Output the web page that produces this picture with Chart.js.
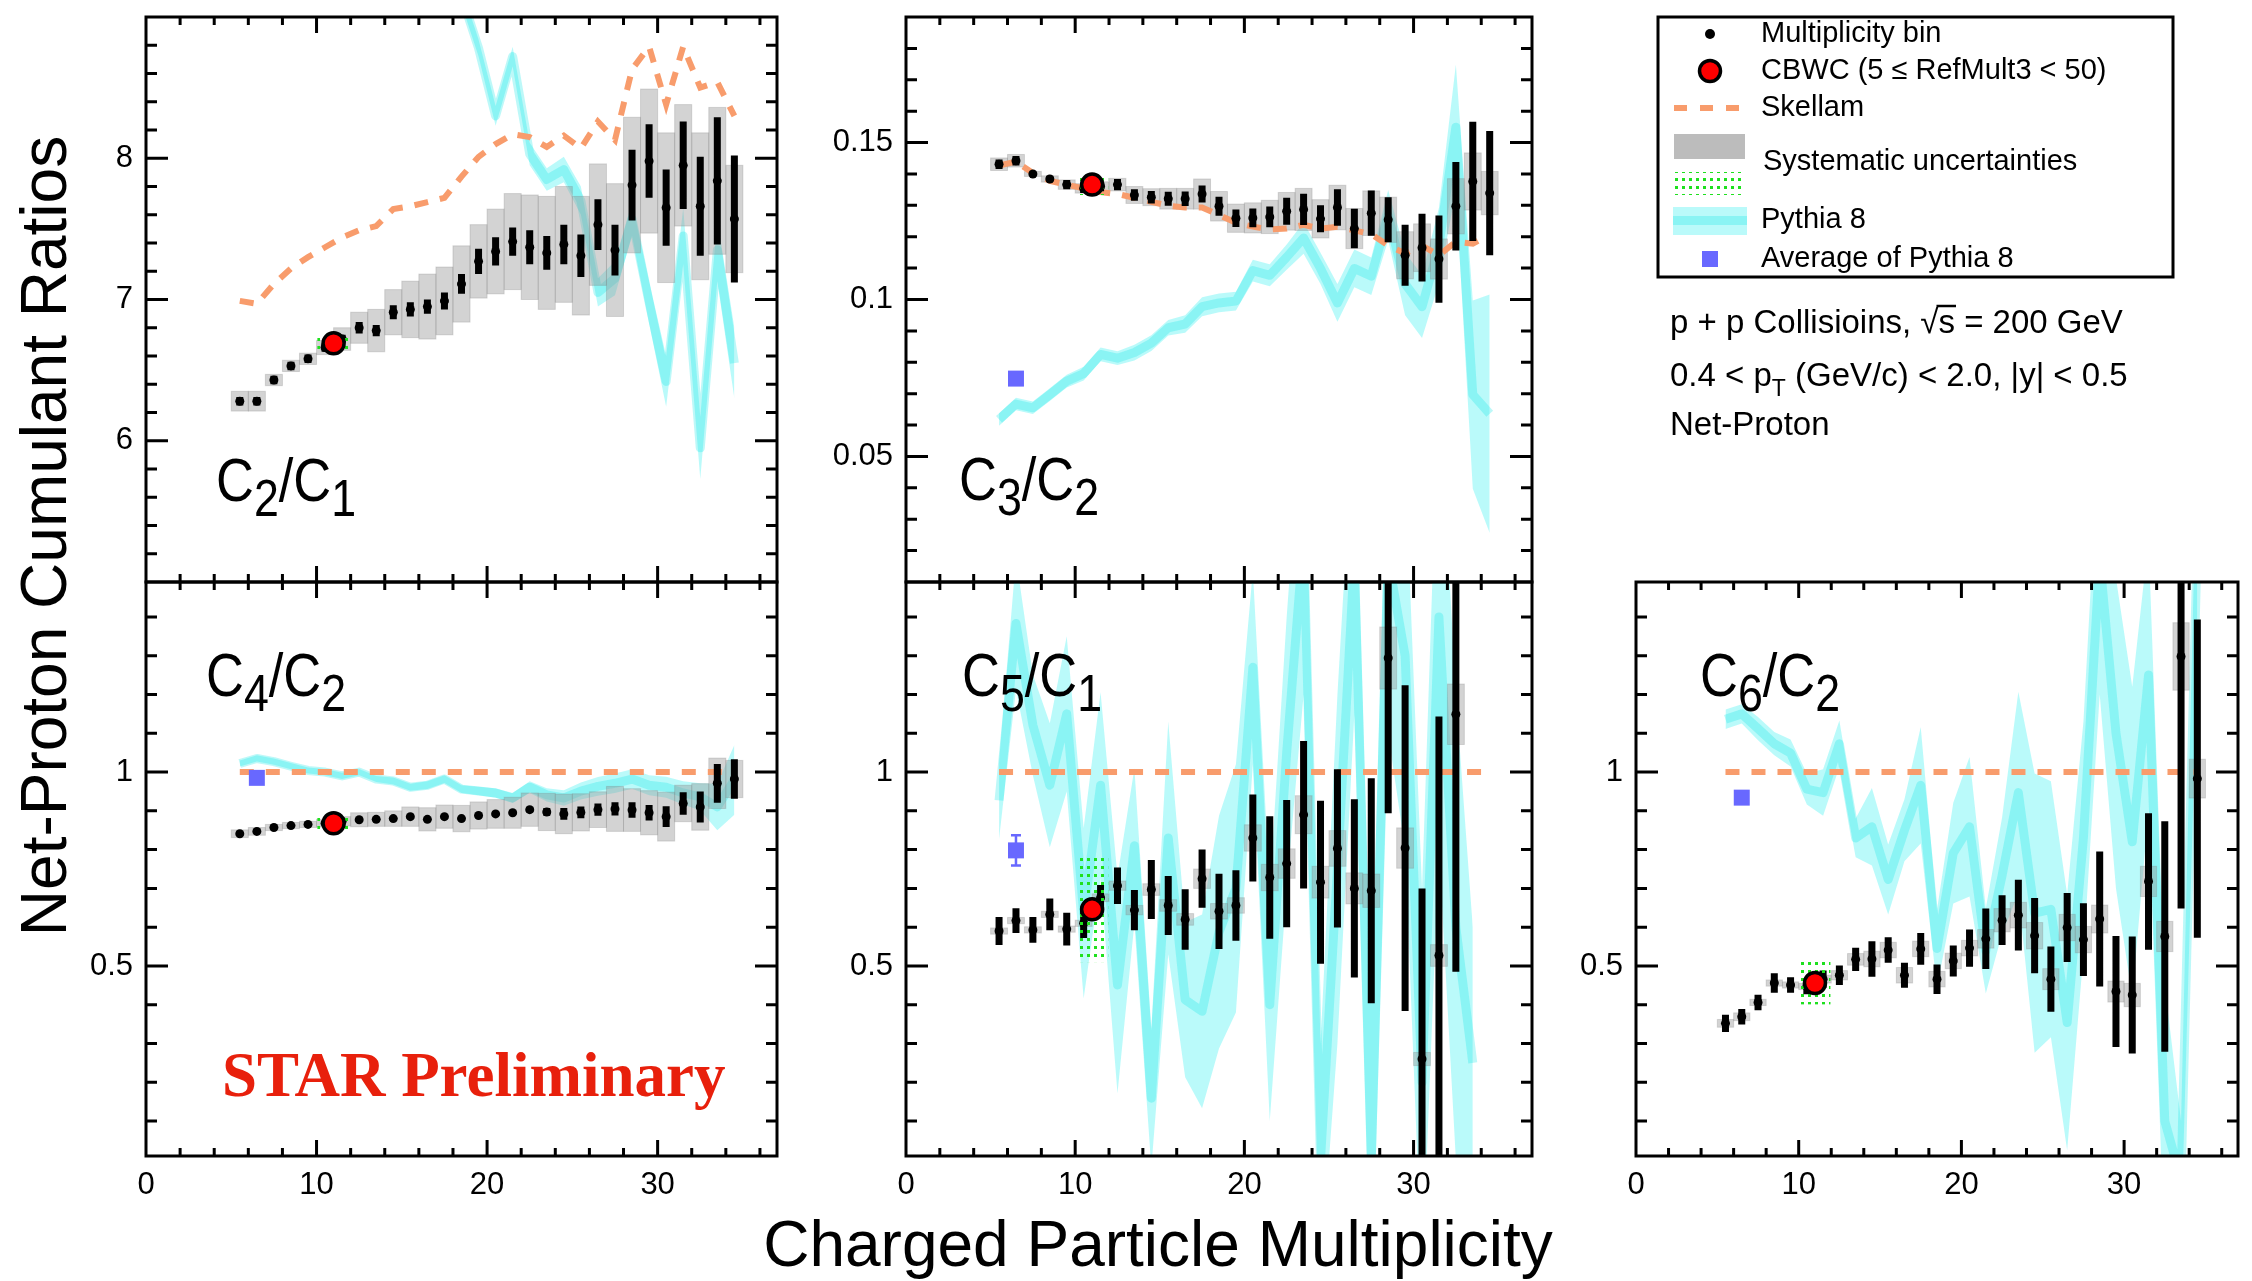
<!DOCTYPE html>
<html>
<head>
<meta charset="utf-8">
<title>Net-Proton Cumulant Ratios</title>
<script src="https://cdn.jsdelivr.net/npm/chart.js@4.4.1/dist/chart.umd.min.js"></script>
<style>
  html, body { margin: 0; padding: 0; background: #fff; }
  #wrap { position: relative; width: 2252px; height: 1281px; overflow: hidden; background: #fff; }
  #wrap canvas { position: absolute; left: 0; top: 0; }
</style>
</head>
<body>
<div id="wrap">
  <canvas id="c21" width="2252" height="1281"></canvas>
  <canvas id="c32" width="2252" height="1281"></canvas>
  <canvas id="c42" width="2252" height="1281"></canvas>
  <canvas id="c51" width="2252" height="1281"></canvas>
  <canvas id="c62" width="2252" height="1281"></canvas>
</div>
<script>
// multiplicity bin centres
const xBins = [5.5, 6.5, 7.5, 8.5, 9.5, 10.5, 11.5, 12.5, 13.5, 14.5, 15.5, 16.5, 17.5, 18.5, 19.5,
  20.5, 21.5, 22.5, 23.5, 24.5, 25.5, 26.5, 27.5, 28.5, 29.5, 30.5, 31.5, 32.5, 33.5, 34.5];

// C2/C1
const c21Val = [6.28, 6.28, 6.43, 6.53, 6.58, 6.66, 6.72, 6.80, 6.78, 6.91, 6.93, 6.95, 6.99, 7.11, 7.27,
  7.34, 7.41, 7.37, 7.33, 7.39, 7.31, 7.53, 7.35, 7.81, 7.98, 7.65, 7.95, 7.66, 7.84, 7.57];
const c21Stat = [0.03, 0.03, 0.03, 0.03, 0.03, 0.03, 0.03, 0.04, 0.04, 0.05, 0.05, 0.05, 0.06, 0.07, 0.09,
  0.10, 0.10, 0.12, 0.12, 0.14, 0.15, 0.18, 0.18, 0.25, 0.26, 0.27, 0.31, 0.35, 0.45, 0.45];
const c21Sys = [0.07, 0.07, 0.04, 0.04, 0.04, 0.05, 0.08, 0.11, 0.15, 0.16, 0.20, 0.23, 0.24, 0.27, 0.26,
  0.30, 0.34, 0.37, 0.40, 0.41, 0.42, 0.43, 0.47, 0.48, 0.51, 0.53, 0.43, 0.52, 0.52, 0.38];
const sk21 = [6.99, 6.97, 7.11, 7.22, 7.30, 7.37, 7.44, 7.49, 7.52, 7.64, 7.66, 7.69, 7.72, 7.87, 8.01,
  8.10, 8.17, 8.15, 8.08, 8.16, 8.07, 8.26, 8.13, 8.63, 8.79, 8.38, 8.79, 8.50, 8.54, 8.30];
const p21Val = [null, null, null, null, null, null, null, null, null, null, null, null, null, 9.15, 8.78,
  8.30, 8.72, 8.03, 7.85, 7.92, 7.70, 7.05, 7.15, 7.57, 6.98, 6.42, 7.45, 5.95, 7.35, 6.55];
const p21Err = [null, null, null, null, null, null, null, null, null, null, null, null, null, 0.06, 0.06,
  0.07, 0.07, 0.08, 0.08, 0.09, 0.10, 0.10, 0.12, 0.12, 0.15, 0.18, 0.20, 0.22, 0.22, 0.25];

// C3/C2
const c32Val = [0.1431, 0.1442, 0.1400, 0.1384, 0.1366, 0.1354, 0.1360, 0.1366, 0.1333, 0.1326, 0.1321, 0.1321,
  0.1336, 0.1297, 0.1259, 0.1260, 0.1263, 0.1281, 0.1287, 0.1257, 0.1293, 0.1226, 0.1275, 0.1254, 0.1141,
  0.1165, 0.1129, 0.1297, 0.1376, 0.1339];
const c32Stat = [0.0015, 0.0015, 0.0008, 0.0010, 0.0015, 0.0015, 0.0015, 0.0018, 0.0018, 0.0020, 0.0022, 0.0023,
  0.0027, 0.0030, 0.0028, 0.0030, 0.0033, 0.0043, 0.0050, 0.0043, 0.0058, 0.0063, 0.0072, 0.0072, 0.0097,
  0.0108, 0.0139, 0.0141, 0.0190, 0.0198];
const c32Sys = [0.0020, 0.0020, 0.0008, 0.0010, 0.0015, 0.0015, 0.0015, 0.0020, 0.0027, 0.0027, 0.0033, 0.0033,
  0.0048, 0.0047, 0.0045, 0.0048, 0.0053, 0.0060, 0.0067, 0.0061, 0.0071, 0.0064, 0.0071, 0.0072, 0.0075,
  0.0076, 0.0064, 0.0088, 0.0091, 0.0069];
const sk32 = [0.1427, 0.1439, 0.1403, 0.1378, 0.1366, 0.1354, 0.1342, 0.1336, 0.1324, 0.1311, 0.1299, 0.1293,
  0.1293, 0.1269, 0.1245, 0.1232, 0.1223, 0.1226, 0.1238, 0.1226, 0.1232, 0.1220, 0.1208, 0.1172, 0.1147,
  0.1172, 0.1141, 0.1184, 0.1178, 0.1208];
const p32Val = [0.0618, 0.0667, 0.0655, 0.0697, 0.0740, 0.0764, 0.0825, 0.0813, 0.0831, 0.0861, 0.0910, 0.0922,
  0.0977, 0.0989, 0.0995, 0.1092, 0.1077, 0.1135, 0.1196, 0.1099, 0.0989, 0.1099, 0.1074, 0.1269, 0.1050,
  0.0977, 0.1172, 0.1549, 0.0697, 0.0636];
const p32Err = [0.002, 0.002, 0.002, 0.002, 0.002, 0.0022, 0.0022, 0.0022, 0.0025, 0.0025, 0.0025, 0.0028,
  0.003, 0.003, 0.003, 0.0035, 0.0035, 0.004, 0.005, 0.005, 0.006, 0.006, 0.006, 0.008, 0.010,
  0.010, 0.012, 0.020, 0.030, 0.038];

// C4/C2
const c42Val = [0.841, 0.847, 0.857, 0.862, 0.865, 0.868, 0.873, 0.877, 0.878, 0.880, 0.885, 0.878, 0.885, 0.880,
  0.888, 0.892, 0.895, 0.903, 0.897, 0.892, 0.896, 0.903, 0.905, 0.902, 0.895, 0.885, 0.919, 0.910, 0.971, 0.982];
const c42Stat = [0.004, 0.004, 0.004, 0.004, 0.004, 0.004, 0.004, 0.004, 0.005, 0.005, 0.005, 0.005, 0.005, 0.005,
  0.006, 0.006, 0.006, 0.007, 0.010, 0.015, 0.015, 0.016, 0.017, 0.020, 0.020, 0.027, 0.029, 0.040, 0.050, 0.051];
const c42Sys = [0.010, 0.010, 0.008, 0.008, 0.008, 0.010, 0.012, 0.018, 0.018, 0.020, 0.025, 0.030, 0.030, 0.034,
  0.035, 0.037, 0.040, 0.043, 0.048, 0.051, 0.048, 0.046, 0.058, 0.055, 0.057, 0.063, 0.047, 0.060, 0.065, 0.048];
const sk42 = [1, 1, 1, 1, 1, 1, 1, 1, 1, 1, 1, 1, 1, 1, 1, 1, 1, 1, 1, 1, 1, 1, 1, 1, 1, 1, 1, 1, 1, 1];
const p42Val = [1.022, 1.035, 1.027, 1.015, 1.004, 1.000, 0.990, 1.000, 0.982, 0.977, 0.961, 0.966, 0.982, 0.956,
  0.951, 0.946, 0.933, 0.961, 0.941, 0.933, 0.951, 0.963, 0.971, 0.982, 0.966, 0.961, 0.946, 0.936, 0.910, 0.980];
const p42Err = [0.008, 0.008, 0.008, 0.008, 0.008, 0.008, 0.008, 0.008, 0.008, 0.009, 0.009, 0.010, 0.010, 0.010,
  0.011, 0.012, 0.013, 0.015, 0.017, 0.020, 0.022, 0.024, 0.025, 0.025, 0.026, 0.027, 0.030, 0.035, 0.060, 0.090];

// C5/C1
const c51Val = [0.590, 0.617, 0.593, 0.633, 0.595, 0.610, 0.676, 0.707, 0.644, 0.697, 0.656, 0.620, 0.725, 0.641,
  0.656, 0.830, 0.728, 0.764, 0.890, 0.716, 0.803, 0.700, 0.694, 1.294, 0.804, 0.260, 0.527, 1.149, null, null];
const c51Stat = [0.036, 0.032, 0.033, 0.041, 0.042, 0.038, 0.033, 0.047, 0.052, 0.076, 0.076, 0.078, 0.075, 0.097,
  0.091, 0.112, 0.158, 0.164, 0.190, 0.210, 0.204, 0.230, 0.290, 0.400, 0.420, 0.440, 0.616, 0.664, null, null];
const c51Sys = [0.008, 0.008, 0.008, 0.008, 0.008, 0.008, 0.010, 0.012, 0.012, 0.015, 0.015, 0.015, 0.025, 0.020,
  0.020, 0.034, 0.034, 0.038, 0.049, 0.041, 0.046, 0.040, 0.043, 0.080, 0.052, 0.017, 0.028, 0.078, null, null];
const sk51 = [1, 1, 1, 1, 1, 1, 1, 1, 1, 1, 1, 1, 1, 1, 1, 1, 1, 1, 1, 1, 1, 1, 1, 1, 1, 1, 1, 1, 1, 1];
const p51Val = [0.927, 1.383, 1.121, 0.966, 1.150, 0.636, 0.966, 0.451, 0.810, 0.159, 0.830, 0.413, 0.383, 0.587,
  0.700, 1.270, 0.400, 1.050, 1.600, 0.000, 0.750, 1.550, 0.000, 1.550, 1.300, 0.200, 1.400, 0.600, 0.250, null];
const p51Err = [0.10, 0.17, 0.13, 0.16, 0.20, 0.22, 0.24, 0.28, 0.20, 0.18, 0.30, 0.20, 0.25, 0.30,
  0.32, 0.25, 0.30, 0.35, 0.40, 0.30, 0.45, 0.40, 0.40, 0.45, 0.50, 0.50, 0.60, 0.60, 0.35, null];

// C6/C2
const c62Val = [0.352, 0.369, 0.406, 0.456, 0.451, 0.447, 0.466, 0.476, 0.517, 0.518, 0.541, 0.476, 0.544, 0.466,
  0.513, 0.546, 0.570, 0.618, 0.631, 0.578, 0.466, 0.599, 0.568, 0.621, 0.434, 0.425, 0.718, 0.576, 1.298, 0.983];
const c62Stat = [0.022, 0.020, 0.020, 0.025, 0.020, 0.020, 0.022, 0.025, 0.030, 0.046, 0.033, 0.032, 0.041, 0.038,
  0.040, 0.048, 0.078, 0.064, 0.091, 0.097, 0.084, 0.089, 0.094, 0.174, 0.143, 0.151, 0.176, 0.297, 0.650, 0.410];
const c62Sys = [0.010, 0.010, 0.008, 0.008, 0.008, 0.008, 0.010, 0.012, 0.015, 0.020, 0.020, 0.020, 0.020, 0.020,
  0.020, 0.020, 0.024, 0.030, 0.033, 0.034, 0.027, 0.034, 0.034, 0.036, 0.027, 0.030, 0.039, 0.039, 0.087, 0.050];
const sk62 = [1, 1, 1, 1, 1, 1, 1, 1, 1, 1, 1, 1, 1, 1, 1, 1, 1, 1, 1, 1, 1, 1, 1, 1, 1, 1, 1, 1, 1, 1];
const p62Val = [1.136, 1.150, 1.112, 1.073, 1.049, 0.956, 0.947, 1.073, 0.830, 0.859, 0.723, 0.850, 0.966, 0.545,
  0.791, 0.859, 0.539, 0.733, 0.947, 0.636, 0.646, 0.354, 0.830, 1.550, 1.100, 0.820, 1.250, 0.100, -0.050, 1.600];
const p62Err = [0.025, 0.025, 0.030, 0.030, 0.035, 0.040, 0.060, 0.060, 0.050, 0.100, 0.090, 0.080, 0.150, 0.100,
  0.130, 0.180, 0.110, 0.150, 0.260, 0.360, 0.330, 0.330, 0.300, 0.350, 0.400, 0.400, 0.350, 0.350, 0.150, 0.300];

// CBWC point and Pythia average, one entry per panel (C2/C1, C3/C2, C4/C2, C5/C1, C6/C2)
const cbwcX = 11;
const cbwcVal = [6.69, 0.1366, 0.868, 0.646, 0.456];
const cbwcSys = [0.07, 0.0033, 0.017, 0.136, 0.055];
const avgX = 6.5;
const avgVal = [null, 0.0748, 0.985, 0.798, 0.934];
const avgErr = [0, 0, 0, 0.039, 0];

const xTickLabels = [0, 10, 20, 30];

const W = 2252, H = 1281;
const Y_AXIS_W = 130, X_AXIS_H = 60;
const FONT = '"Liberation Sans", Arial, Helvetica, sans-serif';
const BAND = 'rgba(0, 238, 238, 0.27)';
const PYLINE = 'rgba(0, 228, 228, 0.26)';
const ORANGE = 'rgb(248, 156, 108)';
const GRAY = 'rgba(150, 150, 150, 0.42)';
const BLUE = '#6868ff';

Chart.defaults.font.family = FONT;
Chart.defaults.color = '#000';
Chart.defaults.animation = false;

const panels = [
  { canvas: 'c21', box: [146, 17, 777, 582], yMin: 5, yMax: 9, yMajor: [6, 7, 8], yStep: 0.2, xLabels: false,
    val: c21Val, stat: c21Stat, sys: c21Sys, sk: sk21, py: p21Val, pyErr: p21Err,
    title: ['C', '2', '/C', '1'], titleAt: [216, 501] },
  { canvas: 'c32', box: [906, 17, 1532, 582], yMin: 0.01, yMax: 0.19, yMajor: [0.05, 0.1, 0.15], yStep: 0.01, xLabels: false,
    val: c32Val, stat: c32Stat, sys: c32Sys, sk: sk32, py: p32Val, pyErr: p32Err,
    title: ['C', '3', '/C', '2'], titleAt: [959, 500] },
  { canvas: 'c42', box: [146, 582, 777, 1156], yMin: 0.01, yMax: 1.49, yMajor: [0.5, 1], yStep: 0.1, xLabels: true,
    val: c42Val, stat: c42Stat, sys: c42Sys, sk: sk42, py: p42Val, pyErr: p42Err,
    title: ['C', '4', '/C', '2'], titleAt: [206, 696] },
  { canvas: 'c51', box: [906, 582, 1532, 1156], yMin: 0.01, yMax: 1.49, yMajor: [0.5, 1], yStep: 0.1, xLabels: true,
    val: c51Val, stat: c51Stat, sys: c51Sys, sk: sk51, py: p51Val, pyErr: p51Err,
    title: ['C', '5', '/C', '1'], titleAt: [962, 696] },
  { canvas: 'c62', box: [1636, 582, 2251, 1156], yMin: 0.01, yMax: 1.49, yMajor: [0.5, 1], yStep: 0.1, xLabels: true,
    val: c62Val, stat: c62Stat, sys: c62Sys, sk: sk62, py: p62Val, pyErr: p62Err,
    title: ['C', '6', '/C', '2'], titleAt: [1700, 696] },
];

function pts(ys) {
  return xBins.map((x, i) => ({ x, y: ys[i] })).filter(p => p.y !== null);
}

function greenPattern(ctx) {
  const c = document.createElement('canvas');
  c.width = 7; c.height = 8;
  const g = c.getContext('2d');
  g.fillStyle = '#1ee01e';
  g.fillRect(2, 2, 3, 3);
  return ctx.createPattern(c, 'repeat');
}

function zeroPad(s) {
  s.paddingTop = 0; s.paddingBottom = 0; s.paddingLeft = 0; s.paddingRight = 0;
}

// ratio label such as C2/C1 with subscripts
function drawRatioLabel(ctx, parts, x0, base) {
  ctx.save();
  ctx.translate(x0, base);
  ctx.scale(0.86, 1);
  ctx.fillStyle = '#000';
  ctx.textAlign = 'left';
  ctx.textBaseline = 'alphabetic';
  let cx = 0;
  parts.forEach((t, k) => {
    const sub = k % 2 === 1;
    ctx.font = (sub ? '52px ' : '61px ') + FONT;
    ctx.fillText(t, cx, sub ? 15 : 0);
    cx += ctx.measureText(t).width;
  });
  ctx.restore();
}

function drawFrame(chart, p) {
  const { ctx, chartArea: a, scales: { x, y } } = chart;
  ctx.save();
  ctx.strokeStyle = '#000';
  ctx.lineWidth = 3;
  ctx.strokeRect(a.left, a.top, a.right - a.left, a.bottom - a.top);
  ctx.beginPath();
  for (let k = 1; k <= 18; k++) {
    const v = 2 * k;
    const px = x.getPixelForValue(v);
    const len = v % 10 === 0 ? 16 : 8;
    ctx.moveTo(px, a.bottom); ctx.lineTo(px, a.bottom - len);
    ctx.moveTo(px, a.top); ctx.lineTo(px, a.top + len);
  }
  const k0 = Math.ceil(p.yMin / p.yStep - 1e-6), k1 = Math.floor(p.yMax / p.yStep + 1e-6);
  for (let k = k0; k <= k1; k++) {
    const v = k * p.yStep;
    if (v <= p.yMin + 1e-6 || v >= p.yMax - 1e-6) continue;
    const major = p.yMajor.some(m => Math.abs(m - v) < 1e-6);
    const len = major ? 22 : 11;
    const py = y.getPixelForValue(v);
    ctx.moveTo(a.left, py); ctx.lineTo(a.left + len, py);
    ctx.moveTo(a.right, py); ctx.lineTo(a.right - len, py);
  }
  ctx.stroke();
  ctx.restore();
}

function drawDecor(ctx) {
  ctx.save();
  ctx.fillStyle = '#000';
  ctx.textBaseline = 'alphabetic';

  // axis titles
  ctx.font = '64px ' + FONT;
  ctx.textAlign = 'center';
  ctx.fillText('Charged Particle Multiplicity', 1158, 1266);
  ctx.save();
  ctx.translate(66, 536);
  ctx.rotate(-Math.PI / 2);
  ctx.fillText('Net-Proton Cumulant Ratios', 0, 0);
  ctx.restore();

  // STAR Preliminary
  ctx.textAlign = 'left';
  ctx.font = 'bold 63px "Liberation Serif", "Times New Roman", serif';
  ctx.fillStyle = '#e8200c';
  ctx.fillText('STAR Preliminary', 222, 1096);

  // legend box
  ctx.fillStyle = '#000';
  ctx.strokeStyle = '#000';
  ctx.lineWidth = 3;
  ctx.strokeRect(1658, 17, 515, 260);
  const sx = 1710, tx = 1761;
  ctx.beginPath(); ctx.arc(sx, 34, 5, 0, Math.PI * 2); ctx.fill();
  ctx.beginPath(); ctx.arc(sx, 71, 10.5, 0, Math.PI * 2);
  ctx.fillStyle = '#ff0000'; ctx.fill();
  ctx.lineWidth = 3.5; ctx.stroke();
  ctx.save();
  ctx.strokeStyle = ORANGE; ctx.lineWidth = 6; ctx.setLineDash([13, 13]);
  ctx.beginPath(); ctx.moveTo(1674, 108); ctx.lineTo(1742, 108); ctx.stroke();
  ctx.restore();
  ctx.fillStyle = 'rgb(188, 188, 188)';
  ctx.fillRect(1674, 134, 71, 25);
  ctx.fillStyle = greenPattern(ctx);
  ctx.fillRect(1674, 172, 71, 23);
  ctx.fillStyle = BAND;
  ctx.fillRect(1673, 207, 74, 28);
  ctx.fillStyle = PYLINE;
  ctx.fillRect(1673, 216, 74, 9);
  ctx.fillStyle = BLUE;
  ctx.fillRect(sx - 8, 251, 16, 16);

  ctx.fillStyle = '#000';
  ctx.font = '29px ' + FONT;
  ctx.textBaseline = 'middle';
  ctx.fillText('Multiplicity bin', tx, 34);
  ctx.fillText('CBWC (5 \u2264 RefMult3 < 50)', tx, 71);
  ctx.fillText('Skellam', tx, 108);
  ctx.fillText('Systematic uncertainties', tx + 2, 162);
  ctx.fillText('Pythia 8', tx, 220);
  ctx.fillText('Average of Pythia 8', tx, 259);

  // collision info
  ctx.textBaseline = 'alphabetic';
  ctx.font = '33px ' + FONT;
  let cx = 1670;
  const t1 = 'p + p Collisioins, ';
  ctx.fillText(t1, cx, 333); cx += ctx.measureText(t1).width;
  ctx.fillText('\u221A', cx, 333); cx += ctx.measureText('\u221A').width;
  const sw = ctx.measureText('s').width;
  ctx.fillText('s', cx, 333);
  ctx.lineWidth = 2.5;
  ctx.beginPath(); ctx.moveTo(cx - 2, 333 - 27); ctx.lineTo(cx + sw + 1, 333 - 27); ctx.stroke();
  cx += sw;
  ctx.fillText(' = 200 GeV', cx, 333);

  cx = 1670;
  const t2 = '0.4 < p';
  ctx.fillText(t2, cx, 386); cx += ctx.measureText(t2).width;
  ctx.font = '23px ' + FONT;
  ctx.fillText('T', cx, 396); cx += ctx.measureText('T').width;
  ctx.font = '33px ' + FONT;
  ctx.fillText(' (GeV/c) < 2.0, |y| < 0.5', cx, 386);

  ctx.fillText('Net-Proton', 1670, 435);
  ctx.restore();
}

function panelPlugin(p, idx, last) {
  return {
    id: 'panel' + idx,
    afterDatasetDraw(chart, args) {
      const kind = chart.data.datasets[args.index].kind;
      const { ctx, chartArea: a, scales: { x, y } } = chart;
      ctx.save();
      ctx.beginPath();
      ctx.rect(a.left, a.top, a.right - a.left, a.bottom - a.top);
      ctx.clip();
      if (kind === 'pyLine') {
        // systematic boxes
        ctx.fillStyle = GRAY;
        ctx.strokeStyle = 'rgba(120, 120, 120, 0.25)';
        ctx.lineWidth = 1;
        p.val.forEach((v, i) => {
          if (v === null) return;
          const xl = x.getPixelForValue(xBins[i] - 0.5), xr = x.getPixelForValue(xBins[i] + 0.5);
          const yt = y.getPixelForValue(v + p.sys[i]), yb = y.getPixelForValue(v - p.sys[i]);
          ctx.fillRect(xl, yt, xr - xl, yb - yt);
          ctx.strokeRect(xl, yt, xr - xl, yb - yt);
        });
      } else if (kind === 'skellam') {
        // statistical error bars
        ctx.strokeStyle = '#000';
        ctx.lineWidth = 7;
        ctx.lineCap = 'butt';
        ctx.beginPath();
        p.val.forEach((v, i) => {
          if (v === null) return;
          const px = x.getPixelForValue(xBins[i]);
          ctx.moveTo(px, y.getPixelForValue(v + p.stat[i]));
          ctx.lineTo(px, y.getPixelForValue(v - p.stat[i]));
        });
        ctx.stroke();
      } else if (kind === 'points') {
        // CBWC systematic box
        const xl = x.getPixelForValue(cbwcX - 0.95), xr = x.getPixelForValue(cbwcX + 0.95);
        const yt = y.getPixelForValue(cbwcVal[idx] + cbwcSys[idx]);
        const yb = y.getPixelForValue(cbwcVal[idx] - cbwcSys[idx]);
        ctx.fillStyle = greenPattern(ctx);
        ctx.fillRect(xl, yt, xr - xl, yb - yt);
      } else if (kind === 'cbwc' && avgVal[idx] !== null && avgErr[idx] > 0) {
        const px = x.getPixelForValue(avgX);
        const y1 = y.getPixelForValue(avgVal[idx] + avgErr[idx]);
        const y2 = y.getPixelForValue(avgVal[idx] - avgErr[idx]);
        ctx.strokeStyle = BLUE;
        ctx.lineWidth = 2.5;
        ctx.beginPath();
        ctx.moveTo(px, y1); ctx.lineTo(px, y2);
        ctx.moveTo(px - 5, y1); ctx.lineTo(px + 5, y1);
        ctx.moveTo(px - 5, y2); ctx.lineTo(px + 5, y2);
        ctx.stroke();
      }
      ctx.restore();
    },
    afterDraw(chart) {
      drawFrame(chart, p);
      drawRatioLabel(chart.ctx, p.title, p.titleAt[0], p.titleAt[1]);
      if (last) drawDecor(chart.ctx);
    }
  };
}

panels.forEach((p, idx) => {
  const band = xBins.map((x, i) => (p.py[i] === null ? null : { x, c: p.py[i], e: p.pyErr[i] })).filter(Boolean);
  new Chart(document.getElementById(p.canvas), {
    type: 'line',
    data: {
      datasets: [
        { kind: 'pyLo', data: band.map(b => ({ x: b.x, y: b.c - b.e })), borderWidth: 0,
          borderColor: 'rgba(0,0,0,0)', pointRadius: 0, fill: false, clip: 0, order: 10 },
        { kind: 'pyHi', data: band.map(b => ({ x: b.x, y: b.c + b.e })), borderWidth: 0,
          borderColor: 'rgba(0,0,0,0)', pointRadius: 0, fill: '-1', backgroundColor: BAND, clip: 0, order: 9 },
        { kind: 'pyLine', data: band.map(b => ({ x: b.x, y: b.c })), borderColor: PYLINE, borderWidth: 9,
          borderJoinStyle: 'round', pointRadius: 0, fill: false, clip: 0, order: 8 },
        { kind: 'skellam', data: pts(p.sk), borderColor: ORANGE, borderWidth: 6, borderDash: [14, 12],
          borderCapStyle: 'butt', pointRadius: 0, fill: false, clip: 0, order: 7 },
        { kind: 'points', data: pts(p.val), showLine: false, pointRadius: 4.5, pointBackgroundColor: '#000',
          pointBorderWidth: 0, order: 6 },
        { kind: 'cbwc', data: [{ x: cbwcX, y: cbwcVal[idx] }], showLine: false, pointRadius: 10.5,
          pointBackgroundColor: '#ff0000', pointBorderColor: '#000', pointBorderWidth: 3.5, order: 5 },
        { kind: 'avg', data: avgVal[idx] === null ? [] : [{ x: avgX, y: avgVal[idx] }], showLine: false,
          pointStyle: 'rect', pointRadius: 11.3, pointBackgroundColor: BLUE, pointBorderWidth: 0, order: 4 },
      ]
    },
    options: {
      responsive: false,
      maintainAspectRatio: false,
      devicePixelRatio: 1,
      animation: false,
      events: [],
      layout: { padding: { left: p.box[0] - Y_AXIS_W, top: p.box[1],
        right: W - p.box[2], bottom: H - p.box[3] - X_AXIS_H } },
      plugins: { legend: { display: false }, tooltip: { enabled: false } },
      scales: {
        x: {
          type: 'linear', min: 0, max: 37,
          grid: { display: false }, border: { display: false },
          ticks: { display: p.xLabels, font: { size: 31 }, padding: 3, maxRotation: 0, autoSkip: false,
            callback: v => String(v) },
          afterBuildTicks: s => { s.ticks = xTickLabels.map(v => ({ value: v })); },
          afterFit: s => { s.height = X_AXIS_H; zeroPad(s); }
        },
        y: {
          type: 'linear', min: p.yMin, max: p.yMax,
          grid: { display: false }, border: { display: false },
          ticks: { font: { size: 31 }, padding: 5, autoSkip: false, callback: v => String(v) },
          afterBuildTicks: s => { s.ticks = p.yMajor.map(v => ({ value: v })); },
          afterFit: s => { s.width = Y_AXIS_W; zeroPad(s); }
        }
      }
    },
    plugins: [panelPlugin(p, idx, idx === panels.length - 1)]
  });
});
</script>
</body>
</html>
